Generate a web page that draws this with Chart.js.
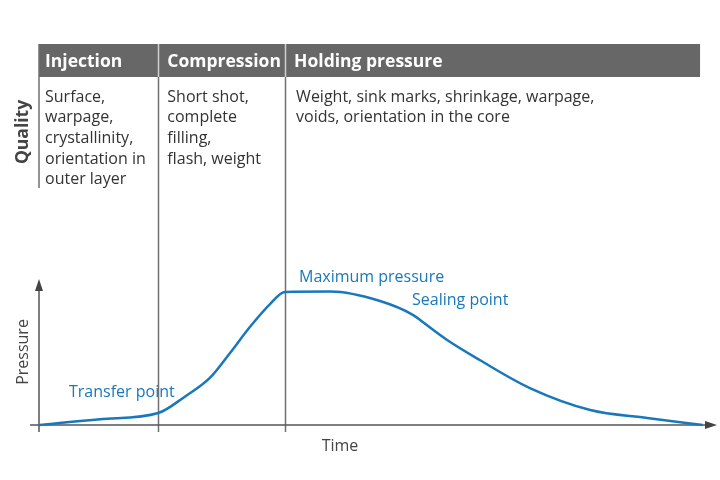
<!DOCTYPE html>
<html>
<head>
<meta charset="utf-8">
<script src="https://cdn.jsdelivr.net/npm/chart.js@4"></script>
<style>
  body { margin: 0; background: #fff; }
  #wrap { width: 720px; height: 480px; }
</style>
</head>
<body>
<div id="wrap"><canvas id="myChart" width="720" height="480"></canvas></div>
<script>
// pressure curve over one cycle (time and pressure in relative units)
let timeVals = [0, 9, 17.6, 21.5, 25.2, 28.2, 31.1, 34.0, 36.3, 43.0, 50.3, 55.2, 56.6, 60.2, 65.0, 72.4, 81.3, 89.7, 97.9];
let pressureVals = [0, 4.0, 8.2, 19.4, 32.2, 49.5, 67.1, 82.5, 91.1, 91.4, 84.9, 75.3, 70.5, 58.2, 44.5, 25.3, 10.3, 4.8, 0];

let phases = ['Injection', 'Compression', 'Holding pressure'];
let phaseStart = [0, 17.6, 36.3];
let phaseEnd = 97.5;
let qualityText = [
  ['Surface,', 'warpage,', 'crystallinity,', 'orientation in', 'outer layer'],
  ['Short shot,', 'complete', 'filling,', 'flash, weight'],
  ['Weight, sink marks, shrinkage, warpage,', 'voids, orientation in the core']
];
let pointLabels = ['Transfer point', 'Maximum pressure', 'Sealing point'];

let blue = '#1878bb';
let gray = '#707070';
let font = '"Open Sans", sans-serif';

let diagram = {
  id: 'diagram',
  beforeDatasetsDraw(chart) {
    let c = chart.ctx;
    let x = chart.scales.x, y = chart.scales.y;
    let x0 = x.getPixelForValue(0), y0 = y.getPixelForValue(0);
    let bandTop = 44, bandBot = 77;
    let xr = x.getPixelForValue(phaseEnd);
    c.save();
    // header band
    c.fillStyle = '#676767';
    c.fillRect(x0, bandTop, xr - x0, bandBot - bandTop);
    // vertical lines
    c.strokeStyle = gray;
    c.lineWidth = 1.5;
    c.beginPath();
    c.moveTo(x0, bandTop); c.lineTo(x0, 188);
    for (let i = 1; i < phaseStart.length; i++) {
      let px = Math.round(x.getPixelForValue(phaseStart[i])) + 0.5;
      c.moveTo(px, bandTop); c.lineTo(px, y0 + 7);
    }
    c.stroke();
    // light gaps in band
    c.strokeStyle = '#cfcfcf';
    c.beginPath();
    for (let i = 1; i < phaseStart.length; i++) {
      let px = Math.round(x.getPixelForValue(phaseStart[i])) + 0.5;
      c.moveTo(px, bandTop); c.lineTo(px, bandBot);
    }
    c.stroke();
    // header and body text
    c.textBaseline = 'middle';
    for (let i = 0; i < phases.length; i++) {
      let px = x.getPixelForValue(phaseStart[i]) + (i == 0 ? 6 : 9);
      c.fillStyle = '#fff';
      c.font = 'bold 17.5px ' + font;
      c.fillText(phases[i], px, 62);
      c.fillStyle = '#333';
      c.font = '16px ' + font;
      qualityText[i].forEach((t, j) => c.fillText(t, px + (i == 2 ? 2 : 0), 97 + j * 20.7));
    }
    // Quality label
    c.save();
    c.translate(23, 132);
    c.rotate(-Math.PI / 2);
    c.textAlign = 'center';
    c.font = 'bold 17.5px ' + font;
    c.fillStyle = '#444';
    c.fillText('Quality', 0, 0);
    c.restore();
    // axes
    c.strokeStyle = '#555';
    c.lineWidth = 1.5;
    c.beginPath();
    c.moveTo(30, y0); c.lineTo(chart.chartArea.right - 6, y0);
    c.moveTo(x0, y0 + 7); c.lineTo(x0, chart.chartArea.top + 8);
    c.stroke();
    c.fillStyle = '#444';
    c.beginPath();
    let ax = chart.chartArea.right;
    c.moveTo(ax, y0); c.lineTo(ax - 12, y0 - 4); c.lineTo(ax - 12, y0 + 4); c.closePath();
    let ay = chart.chartArea.top;
    c.moveTo(x0, ay); c.lineTo(x0 - 4, ay + 12); c.lineTo(x0 + 4, ay + 12); c.closePath();
    c.fill();
    // axis titles
    c.font = '16px ' + font;
    c.fillStyle = '#444';
    c.textAlign = 'center';
    c.fillText('Time', 340, 446);
    c.save();
    c.translate(23, 352);
    c.rotate(-Math.PI / 2);
    c.fillText('Pressure', 0, 0);
    c.restore();
    // point labels
    c.fillStyle = blue;
    c.textAlign = 'left';
    c.fillText(pointLabels[0], 69, 392);
    c.fillText(pointLabels[1], 299, 277);
    c.fillText(pointLabels[2], 412, 300);
    c.restore();
  }
};

let ctx = document.getElementById('myChart').getContext('2d');
let myChart = new Chart(ctx, {
  type: 'line',
  data: {
    datasets: [{
      data: timeVals.map((t, i) => ({ x: t, y: pressureVals[i] })),
      borderColor: blue,
      borderWidth: 2.5,
      pointRadius: 0,
      cubicInterpolationMode: 'monotone',
      clip: false
    }]
  },
  options: {
    responsive: false,
    animation: false,
    layout: { padding: { left: 39, right: 3, top: 279, bottom: 55 } },
    scales: {
      x: { type: 'linear', min: 0, max: 100, display: false },
      y: { min: 0, max: 100, display: false }
    },
    plugins: { legend: { display: false }, tooltip: { enabled: false } }
  },
  plugins: [diagram]
});
</script>
</body>
</html>
